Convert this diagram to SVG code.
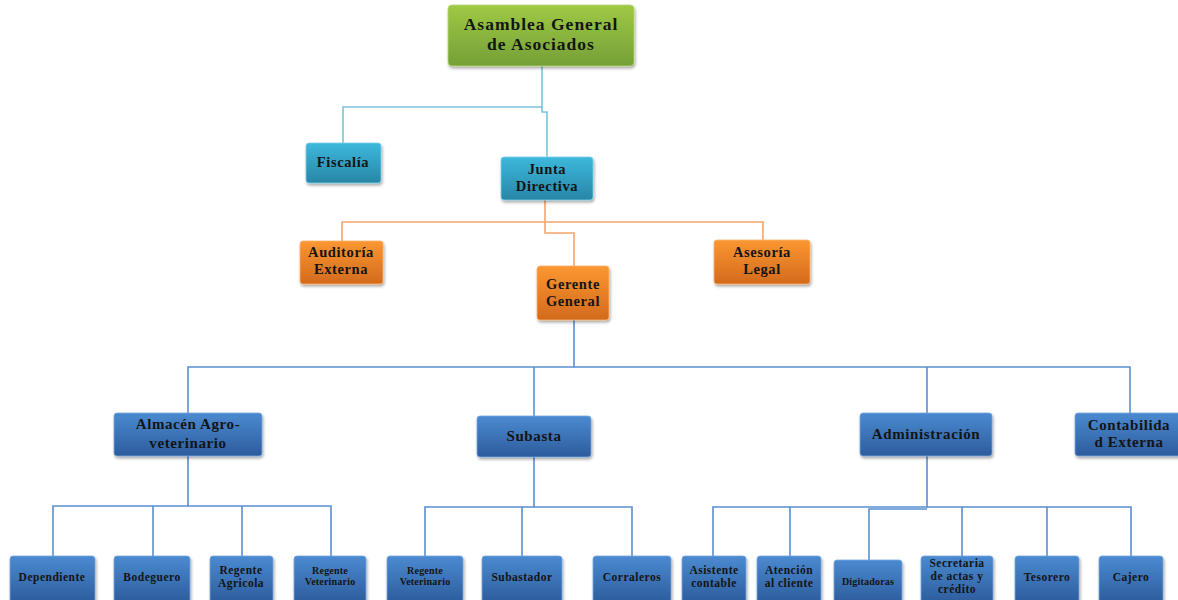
<svg xmlns="http://www.w3.org/2000/svg" width="1178" height="600" viewBox="0 0 1178 600">
<defs>
<linearGradient id="gGreen" x1="0" y1="0" x2="0" y2="1"><stop offset="0" stop-color="#9fc944"/><stop offset="1" stop-color="#74a037"/></linearGradient>
<linearGradient id="gTeal" x1="0" y1="0" x2="0" y2="1"><stop offset="0" stop-color="#3cb8dc"/><stop offset="1" stop-color="#2886a6"/></linearGradient>
<linearGradient id="gOrange" x1="0" y1="0" x2="0" y2="1"><stop offset="0" stop-color="#fb9731"/><stop offset="1" stop-color="#d26a1d"/></linearGradient>
<linearGradient id="gBlue" x1="0" y1="0" x2="0" y2="1"><stop offset="0" stop-color="#4b8ad0"/><stop offset="1" stop-color="#2c5c9c"/></linearGradient>
<filter id="sh" x="-20%" y="-20%" width="140%" height="160%"><feDropShadow dx="1" dy="2" stdDeviation="1.6" flood-color="#000" flood-opacity="0.35"/></filter>
<style>
.n{filter:url(#sh);stroke-width:0.8}
.green{fill:url(#gGreen);stroke:#b5d873}
.teal{fill:url(#gTeal);stroke:#7fd0e8}
.orange{fill:url(#gOrange);stroke:#fbb36e}
.blue{fill:url(#gBlue);stroke:#7aa6de}
text{font-family:"Liberation Serif","Times New Roman",serif;font-weight:bold;fill:#141414;text-anchor:middle}
.t17{font-size:17.5px;letter-spacing:1px}
.t15{font-size:15px;letter-spacing:0.6px}
.t14{font-size:14.5px;letter-spacing:0.6px}
.t11{font-size:11.5px;letter-spacing:0.5px}
.t10{font-size:10px;letter-spacing:0.2px}
.ct{fill:none;stroke:#7cc4da;stroke-width:1.6}
.co{fill:none;stroke:#f5a56b;stroke-width:1.6}
.cb{fill:none;stroke:#5a8ed0;stroke-width:1.6}
</style>
</defs>
<rect width="1178" height="600" fill="#fff"/>
<g id="connectors">
<path class="ct" d="M542 66 V107 H343 V143"/>
<path class="ct" d="M542 107 V112 H547 V157"/>
<path class="co" d="M545 200 V222 H342 V241"/>
<path class="co" d="M545 222 H763 V240"/>
<path class="co" d="M545 222 V233 H574 V266"/>
<path class="cb" d="M574 320 V367 H188 V413"/>
<path class="cb" d="M574 367 H1130 V413"/>
<path class="cb" d="M534 367 V416"/>
<path class="cb" d="M927 367 V413"/>
<path class="cb" d="M188 456 V506 H53 V556"/>
<path class="cb" d="M188 506 H331 V556"/>
<path class="cb" d="M153 506 V556"/>
<path class="cb" d="M242 506 V556"/>
<path class="cb" d="M534 457 V507 H425 V556"/>
<path class="cb" d="M534 507 H632 V556"/>
<path class="cb" d="M522 507 V556"/>
<path class="cb" d="M927 456 V507 H713 V556"/>
<path class="cb" d="M927 507 H1131 V556"/>
<path class="cb" d="M790 507 V556"/>
<path class="cb" d="M927 509 H869 V560"/>
<path class="cb" d="M962 507 V556"/>
<path class="cb" d="M1047 507 V556"/>
</g>
<g id="asamblea"><rect class="n green" x="448" y="5" width="186" height="61" rx="4"/><text class="t17" x="541" y="30">Asamblea General</text><text class="t17" x="541" y="50">de Asociados</text></g>
<g id="fiscalia"><rect class="n teal" x="306" y="143" width="75" height="40" rx="3"/><text class="t14" x="343" y="167">Fiscalía</text></g>
<g id="junta"><rect class="n teal" x="501" y="157" width="92" height="43" rx="3"/><text class="t14" x="547" y="174">Junta</text><text class="t14" x="547" y="191">Directiva</text></g>
<g id="auditoria"><rect class="n orange" x="300" y="241" width="83" height="43" rx="3"/><text class="t14" x="341" y="257">Auditoría</text><text class="t14" x="341" y="274">Externa</text></g>
<g id="asesoria"><rect class="n orange" x="714" y="240" width="96" height="44" rx="3"/><text class="t14" x="762" y="257">Asesoría</text><text class="t14" x="762" y="274">Legal</text></g>
<g id="gerente"><rect class="n orange" x="537" y="266" width="72" height="54" rx="3"/><text class="t14" x="573" y="289">Gerente</text><text class="t14" x="573" y="306">General</text></g>
<g id="almacen"><rect class="n blue" x="114" y="413" width="148" height="43" rx="3"/><text class="t15" x="188" y="429">Almacén Agro-</text><text class="t15" x="188" y="448">veterinario</text></g>
<g id="subasta"><rect class="n blue" x="477" y="416" width="114" height="41" rx="3"/><text class="t15" x="534" y="441">Subasta</text></g>
<g id="administracion"><rect class="n blue" x="860" y="413" width="132" height="43" rx="3"/><text class="t15" x="926" y="439">Administración</text></g>
<g id="contabilidad"><rect class="n blue" x="1075" y="413" width="108" height="43" rx="3"/><text class="t15" x="1129" y="430">Contabilida</text><text class="t15" x="1129" y="447">d Externa</text></g>
<g id="dependiente"><rect class="n blue" x="10" y="556" width="85" height="47" rx="3"/><text class="t11" x="52" y="581">Dependiente</text></g>
<g id="bodeguero"><rect class="n blue" x="114" y="556" width="76" height="47" rx="3"/><text class="t11" x="152" y="581">Bodeguero</text></g>
<g id="regente-agricola"><rect class="n blue" x="210" y="556" width="63" height="47" rx="3"/><text class="t11" x="241" y="574">Regente</text><text class="t11" x="241" y="587">Agricola</text></g>
<g id="regente-veterinario-1"><rect class="n blue" x="294" y="556" width="72" height="47" rx="3"/><text class="t10" x="330" y="574">Regente</text><text class="t10" x="330" y="585">Veterinario</text></g>
<g id="regente-veterinario-2"><rect class="n blue" x="387" y="556" width="76" height="47" rx="3"/><text class="t10" x="425" y="574">Regente</text><text class="t10" x="425" y="585">Veterinario</text></g>
<g id="subastador"><rect class="n blue" x="482" y="556" width="80" height="47" rx="3"/><text class="t11" x="522" y="581">Subastador</text></g>
<g id="corraleros"><rect class="n blue" x="593" y="556" width="78" height="47" rx="3"/><text class="t11" x="632" y="581">Corraleros</text></g>
<g id="asistente"><rect class="n blue" x="682" y="556" width="64" height="47" rx="3"/><text class="t11" x="714" y="574">Asistente</text><text class="t11" x="714" y="587">contable</text></g>
<g id="atencion"><rect class="n blue" x="757" y="556" width="64" height="47" rx="3"/><text class="t11" x="789" y="574">Atención</text><text class="t11" x="789" y="587">al cliente</text></g>
<g id="digitadoras"><rect class="n blue" x="834" y="560" width="68" height="43" rx="3"/><text class="t10" x="868" y="585">Digitadoras</text></g>
<g id="secretaria"><rect class="n blue" x="921" y="556" width="72" height="47" rx="3"/><text class="t11" x="957" y="567">Secretaria</text><text class="t11" x="957" y="580">de actas y</text><text class="t11" x="957" y="593">crédito</text></g>
<g id="tesorero"><rect class="n blue" x="1015" y="556" width="64" height="47" rx="3"/><text class="t11" x="1047" y="581">Tesorero</text></g>
<g id="cajero"><rect class="n blue" x="1099" y="556" width="64" height="47" rx="3"/><text class="t11" x="1131" y="581">Cajero</text></g>
</svg>
